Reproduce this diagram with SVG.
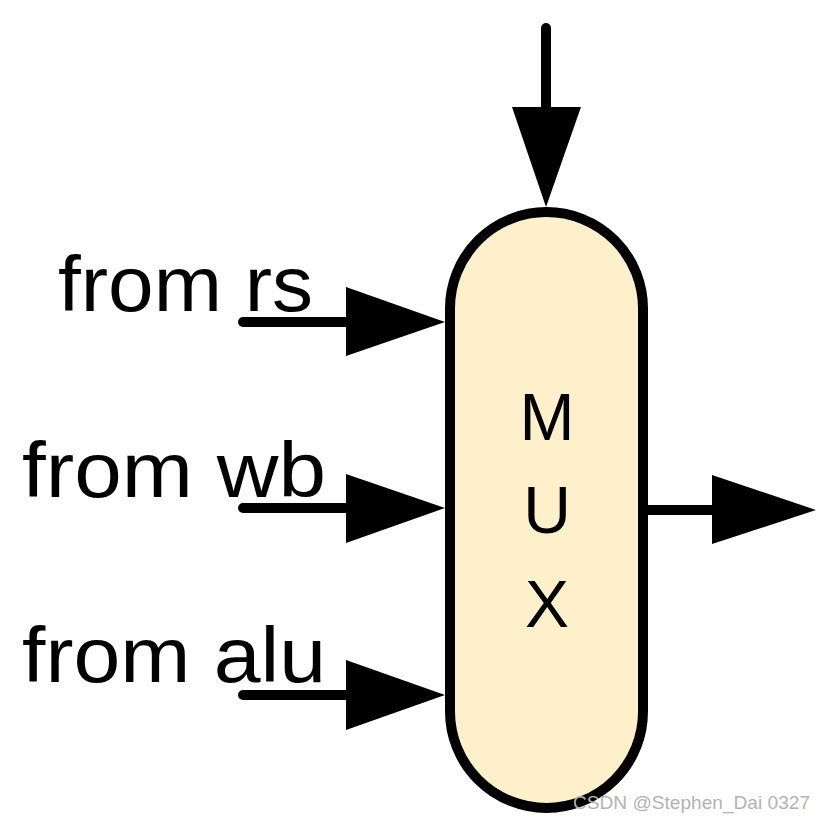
<svg xmlns="http://www.w3.org/2000/svg" width="826" height="824" viewBox="0 0 826 824">
<style>
.ln{stroke:#000;stroke-width:10;stroke-linecap:round;fill:none}
.ah{fill:#000}
.lbl{font-family:"Liberation Sans",Arial,sans-serif;font-size:78px;fill:#000}
.mux{font-family:"Liberation Sans",Arial,sans-serif;font-size:66px;fill:#000;text-anchor:middle}
</style>
<rect width="826" height="824" fill="#fff"/>
<g id="labels">
<text class="lbl" x="58" y="311" textLength="255" lengthAdjust="spacingAndGlyphs">from rs</text>
<text class="lbl" x="22" y="497" textLength="304" lengthAdjust="spacingAndGlyphs">from wb</text>
<text class="lbl" x="22" y="682" textLength="304" lengthAdjust="spacingAndGlyphs">from alu</text>
</g>
<g id="mux">
<rect x="450" y="212" width="193" height="596" rx="96.5" ry="96.5" fill="#FFF0CC" stroke="#000" stroke-width="10"/>
<text class="mux" x="547" y="440">M</text>
<text class="mux" x="547" y="533">U</text>
<text class="mux" x="547" y="627">X</text>
</g>
<g id="connectors">
<path class="ln" d="M546,28 V110"/>
<polygon class="ah" points="512,107 581,107 546,207"/>
<path class="ln" d="M243,322 H350"/>
<polygon class="ah" points="346,287 346,356 445,322"/>
<path class="ln" d="M243,508 H350"/>
<polygon class="ah" points="346,474 346,543 445,508"/>
<path class="ln" d="M243,695 H350"/>
<polygon class="ah" points="346,660 346,730 445,695"/>
<path class="ln" d="M645,510 H716" stroke-linecap="butt"/>
<polygon class="ah" points="712,475 712,544 816,510"/>
</g>
<text x="810" y="809" text-anchor="end" textLength="237" lengthAdjust="spacingAndGlyphs" font-family="Liberation Sans,Arial,sans-serif" font-size="19" fill="#b3b3b3">CSDN @Stephen_Dai 0327</text>
</svg>
